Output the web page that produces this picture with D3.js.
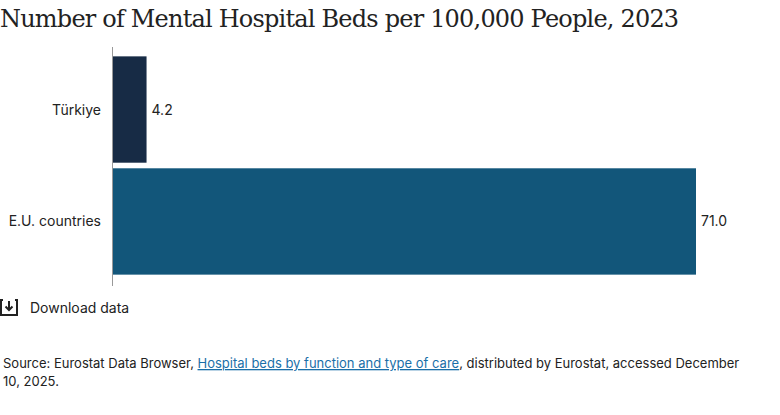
<!DOCTYPE html><html><head><meta charset="utf-8"><script src="https://cdn.jsdelivr.net/npm/d3@7"></script>
<style>body{margin:0;background:#fff;font-family:Inter,"Noto Sans",sans-serif}</style></head><body><svg id="c" width="780" height="415"></svg>
<script>
const categories=["Türkiye","E.U. countries"];
const values=[4.2,71.0];
const colors=["#172b45","#12567a"];
const svg=d3.select("#c");
svg.append("text").attr("x",0).attr("y",27).attr("font-family","'DejaVu Serif',serif").attr("font-size",24).attr("letter-spacing",-0.8).attr("fill","#222").text("Number of Mental Hospital Beds per 100,000 People, 2023");
const x=d3.scaleLinear().domain([0,71]).range([112,696]);
const y=d3.scaleBand().domain(categories).range([53,278]).paddingInner(0.05).paddingOuter(0.03);
svg.selectAll("rect.b").data(values).join("rect").attr("x",x(0)).attr("y",(d,i)=>y(categories[i])).attr("width",d=>x(d)-x(0)).attr("height",y.bandwidth()).attr("fill",(d,i)=>colors[i]);
svg.append("line").attr("x1",112.5).attr("x2",112.5).attr("y1",47).attr("y2",286).attr("stroke","#999");
svg.selectAll("text.c").data(categories).join("text").attr("x",101).attr("y",d=>y(d)+y.bandwidth()/2+5).attr("text-anchor","end").attr("font-size",14).attr("fill","#222").text(d=>d);
svg.selectAll("text.v").data(values).join("text").attr("x",d=>x(d)+5).attr("y",(d,i)=>y(categories[i])+y.bandwidth()/2+5).attr("font-size",14).attr("fill","#222").text(d=>d.toFixed(1));
const g=svg.append("g").attr("transform","translate(0,299)");
g.append("path").attr("d","M3,1 H1 V16 H17 V1 H15").attr("fill","none").attr("stroke","#222").attr("stroke-width",2);
g.append("path").attr("d","M9,2 V11 M5.5,7.5 L9,11 L12.5,7.5").attr("fill","none").attr("stroke","#222").attr("stroke-width",2);
svg.append("text").attr("x",30).attr("y",313).attr("font-size",14).attr("fill","#222").text("Download data");
const s=svg.append("text").attr("x",3).attr("y",368).attr("font-size",13).attr("fill","#222");
s.append("tspan").text("Source: Eurostat Data Browser, ");
s.append("tspan").attr("fill","#1a6fa8").attr("text-decoration","underline").text("Hospital beds by function and type of care");
s.append("tspan").text(", distributed by Eurostat, accessed December");
svg.append("text").attr("x",3).attr("y",386).attr("font-size",13).attr("fill","#222").text("10, 2025.");
</script></body></html>
